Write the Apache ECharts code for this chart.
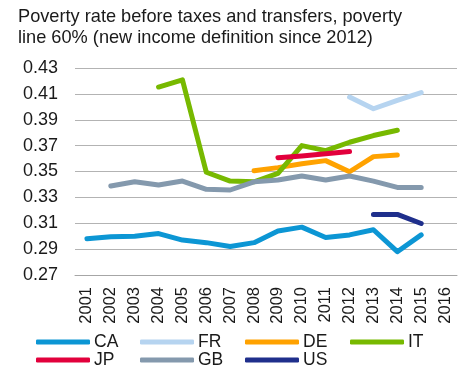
<!DOCTYPE html>
<html><head><meta charset="utf-8">
<script src="https://cdn.jsdelivr.net/npm/echarts@6/dist/echarts.min.js"></script>
<style>html,body{margin:0;padding:0;background:#fff}#c{width:458px;height:371px}</style>
</head><body><div id="c"></div>
<script>
var years = ['2001','2002','2003','2004','2005','2006','2007','2008','2009','2010','2011','2012','2013','2014','2015','2016'];
var yTickLabels = ['0.27','0.29','0.31','0.33','0.35','0.37','0.39','0.41','0.43'];
var CA = [0.298,0.2995,0.300,0.302,0.297,0.295,0.292,0.295,0.304,0.307,0.299,0.301,0.305,0.288,0.301,null];
var FR = [null,null,null,null,null,null,null,null,null,null,null,0.4075,0.3985,0.405,0.411,null];
var DE = [null,null,null,null,null,null,null,0.3506,0.353,0.356,0.3584,0.3498,0.3615,0.3628,null,null];
var IT = [null,null,null,0.4153,0.4209,0.3494,0.3426,0.342,0.3486,0.370,0.3661,0.3726,0.3778,0.3819,null,null];
var JP = [null,null,null,null,null,null,null,null,0.3607,0.362,0.3637,0.3654,null,null,null,null];
var GB = [null,0.3388,0.3421,0.3395,0.3426,0.3362,0.3357,0.342,0.3434,0.3465,0.3434,0.3465,0.3426,0.3377,0.3377,null];
var US = [null,null,null,null,null,null,null,null,null,null,null,null,0.3168,0.3168,0.3098,null];

var names = ['CA','FR','DE','IT','JP','GB','US'];
var dataArr = [CA,FR,DE,IT,JP,GB,US];
var colors = ['#0c96d4','#b6d4f0','#ffa200','#77b900','#e2003c','#8499ad','#1f2f8c'];
var legendPos = [[36,333],[140,333],[245,333],[350,333],[36,351],[140,351],[245,351]];

var font = 'Liberation Sans, Arial, sans-serif';
var chart = echarts.init(document.getElementById('c'), null, {renderer:'canvas'});
var series = names.map(function(n,i){
  return {name:n, type:'line', data:dataArr[i], showSymbol:false, symbol:'none', connectNulls:false,
    lineStyle:{width:5, color:colors[i], cap:'round', join:'round'}, itemStyle:{color:colors[i]},
    yAxisIndex:0, animation:false, z:2+i};
});
var legends = names.map(function(n,i){
  return {data:[n], left:legendPos[i][0], top:legendPos[i][1], icon:'roundRect', itemWidth:54, itemHeight:5, itemGap:0,
    textStyle:{fontFamily:font, fontSize:17.5, color:'#1a1a1a', padding:[0,0,0,-1]}, padding:0, selectedMode:false};
});
chart.setOption({
  animation:false,
  backgroundColor:'#fff',
  title:{text:'Poverty rate before taxes and transfers, poverty\nline 60% (new income definition since 2012)', left:13, top:1,
    textStyle:{fontFamily:font, fontSize:18.2, fontWeight:'normal', color:'#1a1a1a', lineHeight:21}},
  legend:legends,
  grid:{left:75, right:1, top:68, bottom:96, containLabel:false},
  xAxis:{type:'category', data:years, boundaryGap:true,
    axisLine:{lineStyle:{color:'#a6a6a6', width:1}}, axisTick:{show:false},
    axisLabel:{rotate:90, interval:0, fontFamily:font, fontSize:16.5, color:'#1a1a1a', margin:12}},
  yAxis:[
    {type:'value', min:0.27, max:0.43, show:false, splitLine:{show:false}},
    {type:'value', min:0, max:8, interval:1, position:'left',
      axisLine:{show:false}, axisTick:{show:false},
      splitLine:{show:true, lineStyle:{color:'#b3b3b3', width:1}},
      axisLabel:{fontFamily:font, fontSize:18, color:'#1a1a1a', margin:17, formatter:function(v){return yTickLabels[v];}}}
  ],
  series:series.concat([{type:'line', yAxisIndex:1, data:[], silent:true}])
});
</script></body></html>
